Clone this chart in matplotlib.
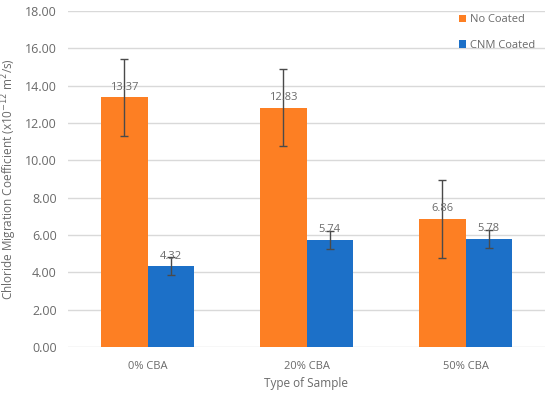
import matplotlib.pyplot as plt
import numpy as np

categorias = ['0% CBA', '20% CBA', '50% CBA']
no_coated = [13.37, 12.83, 6.86]
no_coated_err = [2.08, 2.08, 2.08]
cnm_coated = [4.32, 5.74, 5.78]
cnm_coated_err = [0.48, 0.47, 0.47]

gris = '#6a6a6a'
plt.rcParams['font.family'] = ['Open Sans', 'DejaVu Sans']

fig = plt.figure(figsize=(5.5, 3.93), dpi=100)
ax = fig.add_axes([68/550, 1 - 347/393, (545 - 68)/550, (347 - 11)/393])

x = np.arange(len(categorias))
w = 0.29
ax.bar(x - w/2, no_coated, w, color='#FD7F23', label='No Coated', zorder=2)
ax.bar(x + w/2, cnm_coated, w, color='#1C70C8', label='CNM Coated', zorder=2)
ax.errorbar(x - w/2, no_coated, yerr=no_coated_err, fmt='none', ecolor='#4a4a4a',
            elinewidth=1, capsize=3, capthick=1, zorder=3)
ax.errorbar(x + w/2, cnm_coated, yerr=cnm_coated_err, fmt='none', ecolor='#4a4a4a',
            elinewidth=1, capsize=3, capthick=1, zorder=3)

# etiquetas de valor
for xi, v in zip(x - w/2, no_coated):
    ax.text(xi, v + 0.25, '%.2f' % v, ha='center', va='bottom', fontsize=8, color=gris, zorder=4)
for xi, v in zip(x + w/2, cnm_coated):
    ax.text(xi, v + 0.25, '%.2f' % v, ha='center', va='bottom', fontsize=8, color=gris, zorder=4)

ax.set_xlim(-0.5, 2.5)
ax.set_ylim(0, 18)
yt = np.arange(0, 18.1, 2)
ax.set_yticks(yt)
ax.set_yticklabels(['%.2f' % t for t in yt])
ax.set_xticks(x)
ax.set_xticklabels(categorias)
ax.grid(axis='y', color='#D9D9D9', linewidth=1, zorder=0)
for s in ax.spines.values():
    s.set_visible(False)
ax.tick_params(length=0, colors=gris, labelsize=8)
ax.tick_params(axis='y', labelsize=9, pad=8)
ax.tick_params(axis='x', pad=10)

ax.set_xlabel('Type of Sample', color=gris, fontsize=8.5, labelpad=4)
ax.set_ylabel('Chloride Migration Coefficient (x10$^{-12}$ m$^{2}$/s)', color=gris, fontsize=8.5)
ax.yaxis.set_label_coords(-0.103, 0.5)

leg = ax.legend(loc='upper right', bbox_to_anchor=(1.0, 1.02), frameon=False, fontsize=8,
                handlelength=0.7, handleheight=0.7, handletextpad=0.3, labelspacing=1.3)
for t in leg.get_texts():
    t.set_color(gris)

fig.savefig('out.png', dpi=100)
